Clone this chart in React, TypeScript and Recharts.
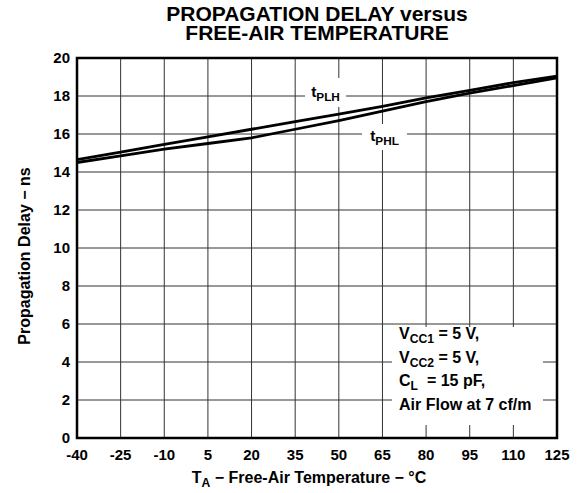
import { LineChart, Line, XAxis, YAxis, CartesianGrid, ReferenceArea } from "recharts";

const TEMPS = [-40, -25, -10, 5, 20, 35, 50, 65, 80, 95, 110, 125];
const T_PLH = [14.65, 15.05, 15.45, 15.85, 16.25, 16.65, 17.05, 17.45, 17.9, 18.3, 18.7, 19.05];
const T_PHL = [14.5, 14.85, 15.2, 15.5, 15.8, 16.25, 16.7, 17.2, 17.7, 18.15, 18.55, 18.95];
const Y_TICKS = [0, 2, 4, 6, 8, 10, 12, 14, 16, 18, 20];

const FONT = '"Liberation Sans", Arial, Helvetica, sans-serif';

const data = TEMPS.map((t, i) => ({ t, plh: T_PLH[i], phl: T_PHL[i] }));

const tick = { fontSize: 15, fontWeight: 700, fill: "#000", fontFamily: FONT };

function Sub({ children }: { children: string }) {
  return <span style={{ fontSize: "0.76em", position: "relative", top: "0.32em" }}>{children}</span>;
}

export default function App() {
  return (
    <div style={{ position: "absolute", left: 0, top: 0, width: 580, height: 493, background: "#fff", fontFamily: FONT, color: "#000" }}>
      <LineChart width={580} height={493} data={data} margin={{ top: 58, right: 23, bottom: 25, left: 37 }}>
        <CartesianGrid stroke="#333" strokeWidth={1} />
        <XAxis
          dataKey="t"
          type="number"
          domain={[-40, 125]}
          ticks={TEMPS}
          tick={tick}
          tickLine={false}
          axisLine={false}
          tickSize={0}
          tickMargin={11}
          height={30}
          interval={0}
        />
        <YAxis
          type="number"
          domain={[0, 20]}
          ticks={Y_TICKS}
          tick={tick}
          tickLine={false}
          axisLine={false}
          tickSize={0}
          tickMargin={7}
          width={40}
          interval={0}
        />
        <ReferenceArea x1={-40} x2={125} y1={0} y2={20} fill="none" stroke="#000" strokeWidth={2.5} fillOpacity={0} ifOverflow="visible" />
        <Line dataKey="plh" stroke="#000" strokeWidth={2.8} dot={false} isAnimationActive={false} />
        <Line dataKey="phl" stroke="#000" strokeWidth={2.8} dot={false} isAnimationActive={false} />
      </LineChart>

      {/* title */}
      <div style={{ position: "absolute", left: 77, width: 480, top: 4, textAlign: "center", fontSize: 21, fontWeight: 700, lineHeight: "19px" }}>
        <div>PROPAGATION DELAY versus</div>
        <div>FREE-AIR TEMPERATURE</div>
      </div>

      {/* curve labels */}
      <div style={{ position: "absolute", left: 305, top: 78, width: 41, height: 29, background: "#fff", fontSize: 15.5, fontWeight: 700, lineHeight: "27px", textAlign: "center" }}>
        t<Sub>PLH</Sub>
      </div>
      <div style={{ position: "absolute", left: 362, top: 124, width: 45, height: 26, background: "#fff", fontSize: 15.5, fontWeight: 700, lineHeight: "24px", textAlign: "center" }}>
        t<Sub>PHL</Sub>
      </div>

      {/* conditions box */}
      <div style={{ position: "absolute", left: 392, top: 327, width: 151, height: 98, background: "#fff" }}>
        <div style={{ position: "absolute", left: 7, top: -4, whiteSpace: "nowrap", fontSize: 16, fontWeight: 700, lineHeight: "22.7px" }}>
          <div>V<Sub>CC1</Sub> = 5 V,</div>
          <div>V<Sub>CC2</Sub> = 5 V,</div>
          <div>C<Sub>L</Sub>&nbsp; = 15 pF,</div>
          <div>Air Flow at 7 cf/m</div>
        </div>
      </div>

      {/* axis labels */}
      <div style={{ position: "absolute", left: 69, width: 480, top: 469, textAlign: "center", fontSize: 16, fontWeight: 700, lineHeight: "18px" }}>
        T<Sub>A</Sub> − Free-Air Temperature − °C
      </div>
      <div style={{ position: "absolute", left: 25, top: 256, width: 0, height: 0 }}>
        <div style={{ position: "absolute", transform: "translate(-50%, -50%) rotate(-90deg)", whiteSpace: "nowrap", fontSize: 16, fontWeight: 700, lineHeight: "18px" }}>
          Propagation Delay − ns
        </div>
      </div>
    </div>
  );
}
